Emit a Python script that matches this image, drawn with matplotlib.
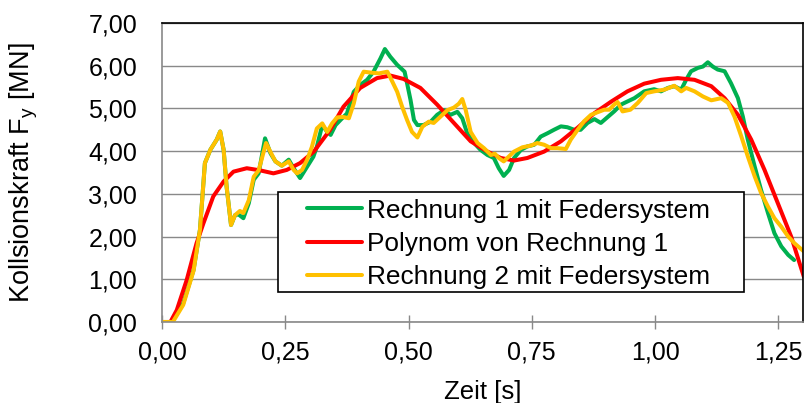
import matplotlib
matplotlib.use("Agg")
import matplotlib.pyplot as plt
from matplotlib.patches import Rectangle

plt.rcParams['font.family'] = ['Liberation Sans', 'DejaVu Sans']
plt.rcParams['mathtext.fontset'] = 'custom'
plt.rcParams['mathtext.rm'] = 'Liberation Sans'

# Rechnung 1 mit Federsystem
green_t = [0.000, 0.020, 0.043, 0.064, 0.077, 0.087, 0.098, 0.111, 0.118, 0.125,
           0.131, 0.140, 0.148, 0.155, 0.165, 0.176, 0.186, 0.196, 0.209, 0.220,
           0.230, 0.243, 0.257, 0.267, 0.280, 0.294, 0.307, 0.314, 0.325, 0.335,
           0.342, 0.352, 0.362, 0.375, 0.389, 0.402, 0.416, 0.429, 0.443, 0.452,
           0.463, 0.477, 0.492, 0.497, 0.504, 0.511, 0.518, 0.530, 0.545, 0.558,
           0.572, 0.585, 0.599, 0.609, 0.619, 0.633, 0.646, 0.660, 0.673, 0.683,
           0.693, 0.704, 0.714, 0.728, 0.741, 0.755, 0.768, 0.782, 0.795, 0.809,
           0.822, 0.836, 0.849, 0.863, 0.877, 0.890, 0.904, 0.917, 0.931, 0.938,
           0.958, 0.978, 0.998, 1.012, 1.026, 1.039, 1.053, 1.063, 1.073, 1.087,
           1.097, 1.107, 1.117, 1.127, 1.141, 1.154, 1.168, 1.178, 1.188, 1.202,
           1.215, 1.229, 1.242, 1.256, 1.270, 1.282]
green_f = [0.00, 0.00, 0.44, 1.22, 2.16, 3.72, 4.03, 4.27, 4.46, 4.03,
           3.17, 2.27, 2.50, 2.52, 2.43, 2.78, 3.33, 3.48, 4.30, 3.95,
           3.76, 3.66, 3.80, 3.60, 3.37, 3.63, 3.87, 4.10, 4.61, 4.45,
           4.38, 4.61, 4.73, 4.88, 5.39, 5.55, 5.67, 5.86, 6.17, 6.39,
           6.21, 6.02, 5.86, 5.59, 5.20, 4.73, 4.61, 4.61, 4.69, 4.85,
           4.96, 4.85, 4.92, 4.77, 4.42, 4.19, 4.03, 3.91, 3.84, 3.60,
           3.42, 3.56, 3.84, 4.03, 4.11, 4.15, 4.34, 4.42, 4.50, 4.58,
           4.56, 4.50, 4.50, 4.66, 4.75, 4.66, 4.80, 4.93, 5.09, 5.13,
           5.24, 5.40, 5.45, 5.40, 5.48, 5.52, 5.44, 5.67, 5.87, 5.95,
           5.98, 6.08, 5.98, 5.91, 5.87, 5.59, 5.24, 4.81, 4.27, 3.64,
           3.09, 2.55, 2.08, 1.77, 1.57, 1.45]

# Polynom von Rechnung 1
red_t = [0.000, 0.017, 0.030, 0.050, 0.070, 0.084, 0.104, 0.125, 0.145, 0.172,
         0.199, 0.226, 0.253, 0.280, 0.308, 0.341, 0.368, 0.402, 0.436, 0.463,
         0.490, 0.524, 0.558, 0.592, 0.626, 0.660, 0.687, 0.714, 0.741, 0.775,
         0.809, 0.843, 0.877, 0.911, 0.944, 0.978, 1.012, 1.046, 1.080, 1.114,
         1.141, 1.168, 1.195, 1.222, 1.249, 1.276, 1.302]
red_f = [0.00, 0.00, 0.28, 0.98, 1.84, 2.31, 2.94, 3.29, 3.52, 3.60,
         3.55, 3.48, 3.56, 3.72, 3.99, 4.50, 5.04, 5.48, 5.71, 5.77,
         5.69, 5.48, 5.09, 4.66, 4.23, 3.99, 3.84, 3.78, 3.84, 3.99,
         4.23, 4.55, 4.89, 5.16, 5.40, 5.58, 5.67, 5.71, 5.67, 5.52,
         5.24, 4.85, 4.27, 3.56, 2.78, 2.00, 1.05]

# Rechnung 2 mit Federsystem
yellow_t = [0.000, 0.022, 0.043, 0.064, 0.077, 0.087, 0.098, 0.111, 0.118, 0.125,
            0.131, 0.140, 0.148, 0.158, 0.165, 0.176, 0.186, 0.196, 0.211, 0.220,
            0.230, 0.243, 0.257, 0.267, 0.274, 0.284, 0.294, 0.304, 0.314, 0.325,
            0.335, 0.345, 0.355, 0.367, 0.379, 0.389, 0.399, 0.409, 0.423, 0.440,
            0.457, 0.467, 0.477, 0.487, 0.497, 0.507, 0.518, 0.528, 0.541, 0.551,
            0.565, 0.579, 0.592, 0.602, 0.609, 0.616, 0.626, 0.640, 0.653, 0.667,
            0.675, 0.683, 0.693, 0.704, 0.714, 0.731, 0.748, 0.761, 0.775, 0.789,
            0.802, 0.819, 0.829, 0.843, 0.856, 0.870, 0.883, 0.897, 0.907, 0.917,
            0.924, 0.934, 0.950, 0.965, 0.982, 0.998, 1.019, 1.039, 1.053, 1.063,
            1.080, 1.097, 1.114, 1.134, 1.148, 1.161, 1.175, 1.188, 1.202, 1.215,
            1.229, 1.242, 1.256, 1.270, 1.283, 1.302]
yellow_f = [0.00, 0.00, 0.40, 1.20, 2.16, 3.72, 4.03, 4.27, 4.46, 4.03,
            3.17, 2.27, 2.50, 2.60, 2.55, 2.85, 3.40, 3.55, 4.19, 3.98,
            3.76, 3.66, 3.76, 3.56, 3.48, 3.56, 3.79, 4.10, 4.53, 4.65,
            4.45, 4.65, 4.79, 4.80, 4.77, 5.12, 5.63, 5.86, 5.84, 5.82,
            5.86, 5.63, 5.39, 5.04, 4.73, 4.45, 4.32, 4.57, 4.69, 4.66,
            4.81, 4.96, 5.02, 5.11, 5.22, 4.96, 4.45, 4.19, 4.07, 3.91,
            3.94, 3.84, 3.76, 3.88, 3.99, 4.09, 4.13, 4.19, 4.15, 4.07,
            4.07, 4.05, 4.27, 4.50, 4.70, 4.85, 4.91, 4.97, 4.97, 5.09,
            5.15, 4.93, 4.97, 5.13, 5.36, 5.40, 5.44, 5.53, 5.40, 5.48,
            5.40, 5.28, 5.19, 5.24, 5.13, 4.81, 4.34, 3.88, 3.41, 3.02,
            2.70, 2.43, 2.23, 2.00, 1.84, 1.65]

xticks = [0.0, 0.25, 0.5, 0.75, 1.0, 1.25]
xtick_labels = ['0,00', '0,25', '0,50', '0,75', '1,00', '1,25']
yticks = [0, 1, 2, 3, 4, 5, 6, 7]
ytick_labels = ['0,00', '1,00', '2,00', '3,00', '4,00', '5,00', '6,00', '7,00']

labels = ['Rechnung 1 mit Federsystem', 'Polynom von Rechnung 1',
          'Rechnung 2 mit Federsystem']
colors = ['#00B050', '#FF0000', '#FFC000']

fig = plt.figure(figsize=(8.06, 4.03), dpi=100)
ax = fig.add_axes([162 / 806, 81 / 403, 641 / 806, 299 / 403])

lw = 2.9
ax.plot(green_t, green_f, color=colors[0], lw=lw, label=labels[0],
        solid_joinstyle='round', solid_capstyle='round', zorder=2)
ax.plot(red_t, red_f, color=colors[1], lw=lw, label=labels[1],
        solid_joinstyle='round', solid_capstyle='round', zorder=2.1)
ax.plot(yellow_t, yellow_f, color=colors[2], lw=lw, label=labels[2],
        solid_joinstyle='round', solid_capstyle='round', zorder=2.2)

ax.set_xlim(0, 1.30)
ax.set_ylim(0, 7)
ax.set_xticks(xticks)
ax.set_xticklabels(xtick_labels)
ax.set_yticks(yticks)
ax.set_yticklabels(ytick_labels)

grey = '#898989'
ax.yaxis.grid(True, color=grey, lw=1.0)
ax.set_axisbelow(True)
ax.tick_params(axis='x', direction='inout', length=10, width=1.0, color=grey,
               pad=8, labelsize=18)
ax.tick_params(axis='y', length=0, pad=18, labelsize=18)
for s in ('left', 'bottom'):
    ax.spines[s].set_color(grey)
    ax.spines[s].set_linewidth(1.2)
for s in ('top', 'right'):
    ax.spines[s].set_color('black')
    ax.spines[s].set_linewidth(1.2)

ax.set_ylabel(r'Kollsionskraft F$_\mathregular{y}$ [MN]', fontsize=19.5)
ax.yaxis.set_label_coords(-0.19, 0.5)
ax.set_xlabel('Zeit [s]', fontsize=18.5)
ax.xaxis.set_label_coords(0.5, -0.195)

# legend box with white fill, drawn separately so padding can differ per side
ax.add_patch(Rectangle((0.181, 0.100), 0.727, 0.335, transform=ax.transAxes,
                       facecolor='white', edgecolor='black', lw=1.2,
                       zorder=4.5, clip_on=False))
ax.legend(loc='upper left', bbox_to_anchor=(0.226, 0.413), frameon=False,
          fontsize=18.9, borderpad=0, borderaxespad=0, handlelength=2.1,
          handletextpad=0.19, labelspacing=0.36)

fig.savefig('out.png', dpi=100)
